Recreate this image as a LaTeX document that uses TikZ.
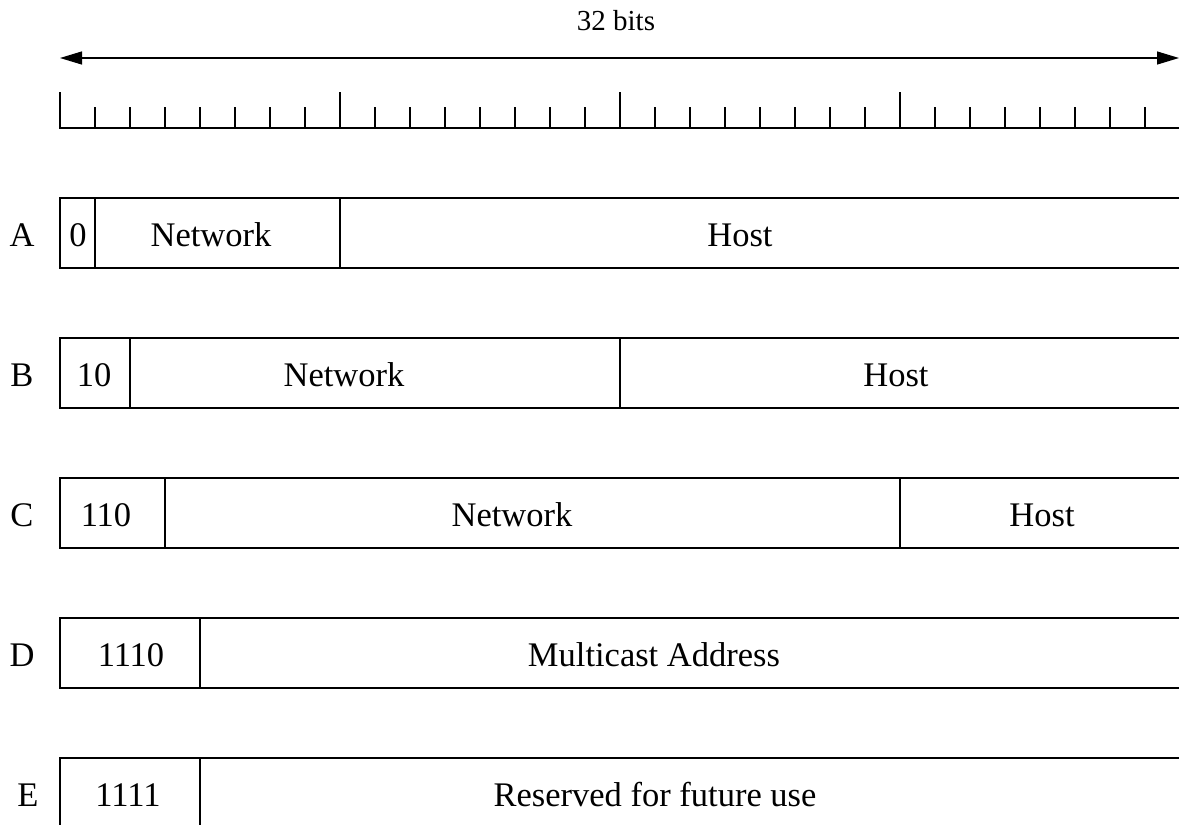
\documentclass[tikz,border=0pt]{standalone}
\usepackage{fontspec}
\setmainfont{Liberation Serif}
\usetikzlibrary{arrows.meta, positioning}

\tikzset{
  frame/.style={line width=0.6pt, line cap=rect},
  fieldtext/.style={font=\fontsize{17.25}{20}\selectfont, inner sep=0pt, anchor=base},
  widthtext/.style={font=\fontsize{14.5}{17}\selectfont, inner sep=0pt, anchor=base}
}

\begin{document}
\begin{tikzpicture}[x=0.5pt, y=-0.5pt]
  \useasboundingbox (0,0) rectangle (1179,825);
  \clip (0,0) rectangle (1179,825);

  % word width
  \coordinate (wordL) at (60,58);
  \coordinate (wordR) at (1179,58);
  \draw[line width=0.6pt, {Triangle[length=11pt,width=6.5pt]}-{Triangle[length=11pt,width=6.5pt]}] (wordL) -- (wordR);
  \node[widthtext] (bits) at (616,30) {32 bits};

  % bit ruler
  \draw[frame] (60,128) -- (1179,128);
  \foreach \k in {0,...,31}
    \draw[frame] ({60+35*\k},108) -- ({60+35*\k},128);
  \foreach \k in {0,8,16,24}
    \draw[frame] ({60+35*\k},93) -- ({60+35*\k},128);

  % class frames (open to the right)
  \foreach \top in {198,338,478,618,758}
    \draw[frame] (1185,\top) -| (60,{\top+70}) -- (1185,{\top+70});

  % field borders
  \draw[frame] (95,198) -- (95,268);
  \draw[frame] (340,198) -- (340,268);
  \draw[frame] (130,338) -- (130,408);
  \draw[frame] (620,338) -- (620,408);
  \draw[frame] (165,478) -- (165,548);
  \draw[frame] (900,478) -- (900,548);
  \draw[frame] (200,618) -- (200,688);
  \draw[frame] (200,758) -- (200,828);

  % class A
  \node[fieldtext] (classA) at (22,246) {A};
  \node[fieldtext] (prefA) at (78,246) {0};
  \node[fieldtext] (netA) at (211,246) {Network};
  \node[fieldtext] (hostA) at (740,246) {Host};

  % class B
  \node[fieldtext] (classB) at (22,386) {B};
  \node[fieldtext] (prefB) at (94,386) {10};
  \node[fieldtext] (netB) at (344,386) {Network};
  \node[fieldtext] (hostB) at (896,386) {Host};

  % class C
  \node[fieldtext] (classC) at (22,526) {C};
  \node[fieldtext] (prefC) at (106,526) {110};
  \node[fieldtext] (netC) at (512,526) {Network};
  \node[fieldtext] (hostC) at (1042,526) {Host};

  % class D
  \node[fieldtext] (classD) at (22,666) {D};
  \node[fieldtext] (prefD) at (131,666) {1110};
  \node[fieldtext] (multD) at (654,666) {Multicast Address};

  % class E
  \node[fieldtext] (classE) at (28,806) {E};
  \node[fieldtext] (prefE) at (128,806) {1111};
  \node[fieldtext] (resE) at (655,806) {Reserved for future use};
\end{tikzpicture}
\end{document}
